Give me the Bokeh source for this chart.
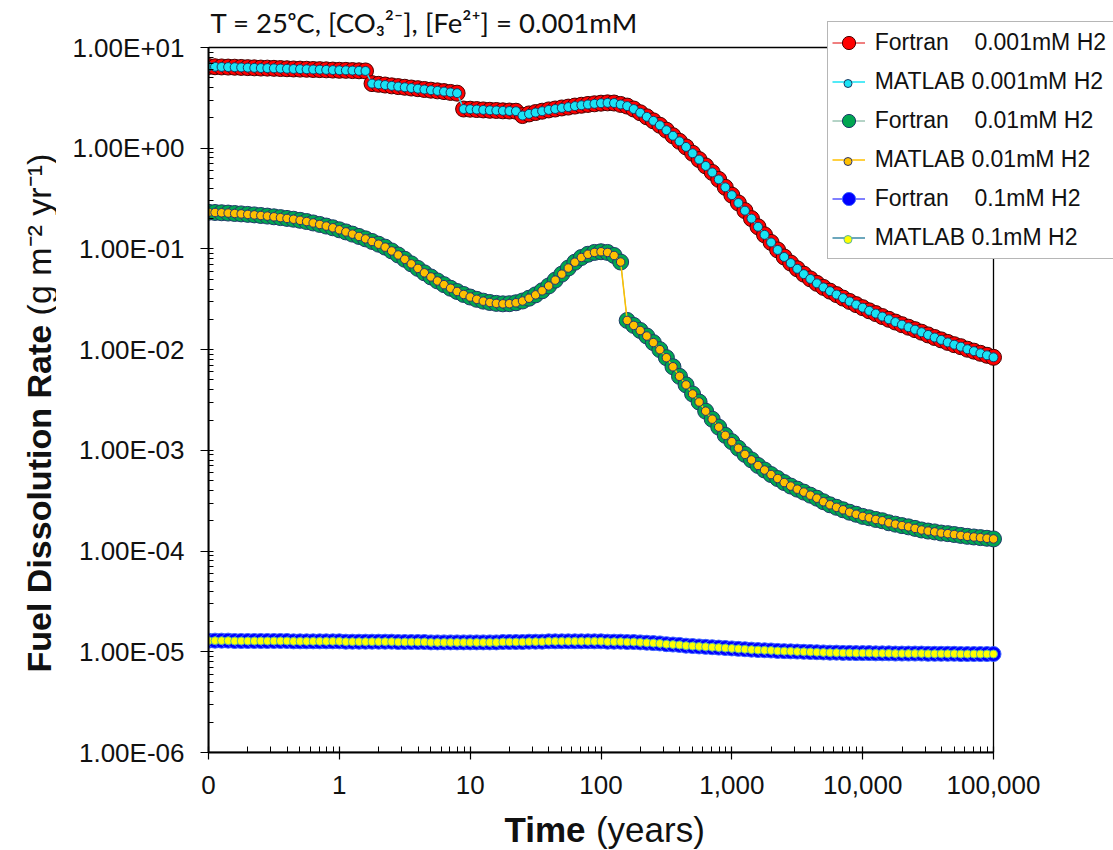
import math
from bokeh.plotting import figure
from bokeh.layouts import row, column
from bokeh.models import (FixedTicker, CustomJSTickFormatter, Legend, LegendItem,
                          Label, Range1d, BoxAnnotation)
from bokeh.embed import file_html
from bokeh.resources import INLINE

# ---------------- data ----------------
time_years = [
    0.1, 0.1122, 0.1259, 0.1413, 0.1585, 0.1778, 0.1995, 0.2239, 0.2512, 0.2818,
    0.3162, 0.3548, 0.3981, 0.4467, 0.5012, 0.5623, 0.6310, 0.7079, 0.7943, 0.8913,
    1.0, 1.122, 1.259, 1.413, 1.585, 1.778, 1.995, 2.239, 2.512, 2.818,
    3.162, 3.548, 3.981, 4.467, 5.012, 5.623, 6.310, 7.079, 7.943, 8.913,
    10.0, 11.22, 12.59, 14.13, 15.85, 17.78, 19.95, 22.39, 25.12, 28.18,
    31.62, 35.48, 39.81, 44.67, 50.12, 56.23, 63.10, 70.79, 79.43, 89.13,
    100.0, 112.2, 125.9, 141.3, 158.5, 177.8, 199.5, 223.9, 251.2, 281.8,
    316.2, 354.8, 398.1, 446.7, 501.2, 562.3, 631.0, 707.9, 794.3, 891.3,
    1000.0, 1122.0, 1259.0, 1413.0, 1585.0, 1778.0, 1995.0, 2239.0, 2512.0, 2818.0,
    3162.0, 3548.0, 3981.0, 4467.0, 5012.0, 5623.0, 6310.0, 7079.0, 7943.0, 8913.0,
    10000.0, 11220.0, 12590.0, 14130.0, 15850.0, 17780.0, 19950.0, 22390.0, 25120.0, 28180.0,
    31620.0, 35480.0, 39810.0, 44670.0, 50120.0, 56230.0, 63100.0, 70790.0, 79430.0, 89130.0,
    100000.0,
]

fortran_0001 = [
    6.47, 6.44, 6.41, 6.39, 6.37, 6.34, 6.31, 6.28, 6.25, 6.24, 6.21, 6.18, 6.15,
    6.12, 6.10, 6.08, 6.05, 6.03, 6.00, 5.97, 5.94, 5.93, 5.90, 5.87, 5.85,
    4.38, 4.31, 4.24, 4.16, 4.09, 4.03, 3.96, 3.90, 3.83, 3.77, 3.71, 3.65, 3.58, 3.52,
    2.45, 2.44, 2.42, 2.40, 2.38, 2.37, 2.35, 2.34, 2.33,
    2.11, 2.19, 2.26, 2.33, 2.40, 2.45, 2.51, 2.56, 2.62, 2.67, 2.72, 2.76, 2.80, 2.82,
    2.81, 2.72, 2.62, 2.45, 2.25, 2.05, 1.87, 1.69, 1.51, 1.33,
    1.17, 1.03, 0.891, 0.771, 0.667, 0.575, 0.490, 0.409, 0.342, 0.286,
    0.240, 0.200, 0.166, 0.138, 0.116, 0.0977, 0.0832, 0.0724, 0.0635, 0.0562,
    0.0504, 0.0455, 0.0415, 0.0381, 0.0352, 0.0325, 0.0301, 0.0280, 0.0261, 0.0243,
    0.0228, 0.0213, 0.0200, 0.0188, 0.0177, 0.0167, 0.0158, 0.0149, 0.0140, 0.0132,
    0.0125, 0.0118, 0.0112, 0.0107, 0.0101, 0.00966, 0.00920, 0.00879, 0.00839,
]

fortran_001 = [
    0.2312, 0.2301, 0.2286, 0.2270, 0.2249, 0.2228, 0.2203, 0.2178, 0.2148, 0.2118,
    0.2084, 0.2046, 0.2009,
    0.1972, 0.1923, 0.1871, 0.1811, 0.1750, 0.1687, 0.1622, 0.1549, 0.1476, 0.1403,
    0.1330, 0.1259, 0.1186, 0.1114, 0.1042,
    0.0955, 0.0871, 0.0789, 0.0711, 0.0641, 0.0579, 0.0527, 0.0481, 0.0442, 0.0407,
    0.0378, 0.0353, 0.0333, 0.0316, 0.0303, 0.0294, 0.0288, 0.0285, 0.0286, 0.0292,
    0.0304, 0.0324, 0.0350, 0.0384, 0.0429, 0.0490, 0.0562, 0.0646, 0.0738, 0.0822,
    0.0885, 0.0923, 0.0938, 0.0923, 0.0861, 0.0741,
    0.0195, 0.0174, 0.0155, 0.01365, 0.01175, 0.0100, 0.00832, 0.00676, 0.00543, 0.00447,
    0.00363, 0.00302, 0.00245, 0.00204, 0.00170, 0.00141, 0.00122, 0.00105, 0.000912, 0.000804,
    0.000708, 0.000638, 0.000575, 0.000525, 0.000479, 0.000442, 0.000412, 0.000385, 0.000359, 0.000335,
    0.000309, 0.000288, 0.000272, 0.000257, 0.000243, 0.000232, 0.000221, 0.000214, 0.000206, 0.000200,
    0.000191, 0.000185, 0.000179, 0.000174, 0.000168, 0.000162, 0.000158, 0.000155, 0.000151, 0.000149,
    0.000146, 0.000143, 0.000140, 0.000138, 0.000136, 0.000134, 0.000132,
]

fortran_01 = [
    1.29e-5, 1.29e-5, 1.29e-5, 1.29e-5, 1.28e-5, 1.28e-5, 1.28e-5, 1.28e-5, 1.28e-5, 1.28e-5, 1.28e-5,
    1.28e-5, 1.28e-5, 1.27e-5, 1.27e-5, 1.27e-5, 1.27e-5, 1.27e-5, 1.27e-5, 1.27e-5, 1.27e-5,
    1.26e-5, 1.26e-5, 1.26e-5, 1.26e-5, 1.26e-5, 1.26e-5,
    1.26e-5, 1.26e-5, 1.25e-5, 1.25e-5, 1.25e-5, 1.25e-5, 1.25e-5, 1.24e-5, 1.24e-5, 1.24e-5,
    1.24e-5, 1.24e-5, 1.24e-5, 1.24e-5, 1.24e-5, 1.24e-5, 1.24e-5, 1.24e-5, 1.25e-5, 1.25e-5, 1.25e-5,
    1.25e-5, 1.26e-5, 1.26e-5, 1.26e-5, 1.27e-5, 1.27e-5, 1.27e-5, 1.27e-5, 1.27e-5, 1.27e-5,
    1.27e-5, 1.27e-5, 1.27e-5, 1.26e-5, 1.26e-5, 1.26e-5, 1.25e-5, 1.25e-5, 1.24e-5,
    1.23e-5, 1.22e-5, 1.21e-5, 1.19e-5, 1.18e-5, 1.17e-5, 1.15e-5, 1.14e-5, 1.13e-5, 1.12e-5,
    1.11e-5, 1.10e-5, 1.09e-5, 1.08e-5, 1.07e-5, 1.06e-5,
    1.05e-5, 1.04e-5, 1.035e-5, 1.03e-5, 1.02e-5, 1.015e-5, 1.01e-5, 1.005e-5, 1.00e-5, 0.995e-5,
    0.99e-5, 0.985e-5, 0.98e-5, 0.98e-5, 0.975e-5, 0.975e-5, 0.97e-5, 0.97e-5, 0.97e-5, 0.965e-5,
    0.965e-5, 0.965e-5, 0.96e-5, 0.96e-5, 0.96e-5, 0.96e-5, 0.96e-5, 0.955e-5, 0.955e-5,
    0.955e-5, 0.955e-5, 0.955e-5, 0.95e-5, 0.95e-5, 0.95e-5, 0.95e-5, 0.95e-5, 0.95e-5,
]

# MATLAB results coincide with the Fortran results at the resolution of the picture
matlab_0001 = list(fortran_0001)
matlab_001 = list(fortran_001)
matlab_01 = list(fortran_01)

x_major_ticks = [0.1, 1, 10, 100, 1000, 10000, 100000]
y_major_ticks = [1e-6, 1e-5, 1e-4, 1e-3, 1e-2, 1e-1, 1, 10]
x_min, x_max = 0.1, 1e5
y_min, y_max = 1e-6, 10.0

NB = "\u00a0"
labels = [
    "Fortran" + NB * 4 + "0.001mM H2",
    "MATLAB 0.001mM H2",
    "Fortran" + NB * 4 + "0.01mM H2",
    "MATLAB 0.01mM H2",
    "Fortran" + NB * 4 + "0.1mM H2",
    "MATLAB 0.1mM H2",
]

# ---------------- geometry (page pixels) ----------------
FONT = "Liberation Sans"
PAGE_W, PAGE_H = 1113, 850
YLAB_W = 56                 # strip holding the y-axis title
FRAME_L, FRAME_R = 208, 993  # where x = 0.1 and x = 1e5 fall
FRAME_T, FRAME_B = 47, 752   # where y = 10 and y = 1e-6 fall
MAIN_H = 810

px_per_dec_x = (FRAME_R - FRAME_L) / 6.0
px_per_dec_y = (FRAME_B - FRAME_T) / 7.0
x_view_end = x_max * 10 ** ((PAGE_W - FRAME_R) / px_per_dec_x)
y_view_end = y_max * 10 ** (FRAME_T / px_per_dec_y)

p = figure(width=PAGE_W - YLAB_W, height=MAIN_H, x_axis_type="log", y_axis_type="log",
           x_range=Range1d(x_min, x_view_end), y_range=Range1d(y_min, y_view_end),
           output_backend="svg", toolbar_location=None, title=None,
           min_border_left=FRAME_L - YLAB_W, min_border_right=0,
           min_border_top=0, min_border_bottom=MAIN_H - FRAME_B)
p.grid.visible = False
p.outline_line_color = None
p.background_fill_color = "white"
p.border_fill_color = "white"

# plot-area box (x 0.1..1e5, y 1e-6..10)
p.add_layout(BoxAnnotation(left=x_min, right=x_max, bottom=y_min, top=y_max,
                           fill_alpha=0, line_color="black", line_alpha=1.0,
                           line_width=1.3, level="underlay"))

xa = p.xaxis[0]
xa.bounds = (x_min, x_max)
xa.ticker = FixedTicker(ticks=x_major_ticks,
                        minor_ticks=[m * 10.0 ** e for e in range(-1, 5) for m in range(2, 10)])
xa.formatter = CustomJSTickFormatter(code="""
if (tick < 0.5) { return "0"; }
return Math.round(tick).toLocaleString("en-US");
""")
ya = p.yaxis[0]
ya.bounds = (y_min, y_max)
ya.ticker = FixedTicker(ticks=y_major_ticks,
                        minor_ticks=[m * 10.0 ** e for e in range(-6, 1) for m in range(2, 10)])
ya.formatter = CustomJSTickFormatter(code="""
const e = Math.round(Math.log10(tick));
const a = Math.abs(e);
return "1.00E" + (e < 0 ? "-" : "+") + (a < 10 ? "0" : "") + a;
""")

for ax in (xa, ya):
    ax.axis_line_color = "black"
    ax.axis_line_width = 2
    ax.major_tick_line_color = "black"
    ax.minor_tick_line_color = "black"
    ax.major_tick_line_width = 1.2
    ax.minor_tick_line_width = 1
    ax.minor_tick_out = 0
    ax.major_label_text_font = FONT
    ax.major_label_text_font_size = "26px"
    ax.major_label_text_color = "#111111"

xa.major_tick_in = 6
xa.major_tick_out = 7
xa.minor_tick_in = 6
xa.major_label_standoff = 16
ya.major_tick_in = 5
ya.major_tick_out = 8
ya.minor_tick_in = 5
ya.major_label_standoff = 16

# ---------------- series ----------------
styles = [
    dict(y=fortran_0001, fill="#ff0000", edge="#4a0000", line="#e00000", size=16, lw=1),
    dict(y=matlab_0001, fill="#19e3f5", edge="#1f3560", line="#19e3f5", size=9, lw=1.5),
    dict(y=fortran_001, fill="#00a651", edge="#1f3a6a", line="#6aa88e", size=16, lw=1),
    dict(y=matlab_001, fill="#ffc000", edge="#2b3470", line="#ffc000", size=8.5, lw=1.5),
    dict(y=fortran_01, fill="#0000ff", edge="#3d63ff", line="#0000ff", size=15, lw=1),
    dict(y=matlab_01, fill="#ffff00", edge="#59b3a0", line="#3b8aa6", size=8, lw=1.5),
]

lines, dots = [], []
for st in styles:
    ln = p.line(time_years, st["y"], line_color=st["line"], line_width=st["lw"])
    sc = p.scatter(time_years, st["y"], size=st["size"], fill_color=st["fill"],
                   line_color=st["edge"], line_width=1)
    lines.append(ln)
    dots.append(sc)

# invisible helper used for empty legend slots
ghost = p.scatter([1.0], [1e-9], size=1, fill_alpha=0, line_alpha=0)

# legend geometry (page pixels)
LEG_L, LEG_T, LEG_R = 826.7, 23.3, 1112
PAD, GH_A, SP_A = 4, 33, 6
GH_B, SP_B = 20, 19
STANDOFF = 10
leg_h_a = 2 * PAD + 6 * GH_A + 5 * SP_A
leg_h_b = 2 * PAD + 6 * GH_B + 5 * SP_B
top_b = LEG_T + (GH_A - GH_B) / 2.0

items_a = []
for i, lbl in enumerate(labels):
    rs = [lines[i], dots[i]] if i % 2 == 0 else [lines[i]]
    items_a.append(LegendItem(label=lbl, renderers=rs))
leg_a = Legend(items=items_a,
               location=(LEG_L - FRAME_L, FRAME_B - (LEG_T + leg_h_a)),
               orientation="vertical",
               glyph_width=33, glyph_height=GH_A, spacing=SP_A, padding=PAD, margin=0,
               label_standoff=STANDOFF,
               label_width=int(LEG_R - LEG_L - 2 * PAD - 33 - STANDOFF),
               label_text_font=FONT, label_text_font_size="23px",
               label_text_color="#111111", label_text_baseline="middle",
               border_line_color="#6e6e6e", border_line_width=1.5,
               background_fill_color="white", background_fill_alpha=1.0)
p.add_layout(leg_a)

# overlay legend for the small (MATLAB) markers
items_b = []
for i in range(6):
    rs = [dots[i]] if i % 2 == 1 else [ghost]
    items_b.append(LegendItem(label=NB, renderers=rs))
leg_b = Legend(items=items_b,
               location=(LEG_L - FRAME_L, FRAME_B - (top_b + leg_h_b)),
               orientation="vertical",
               glyph_width=33, glyph_height=GH_B, spacing=SP_B, padding=PAD, margin=0,
               label_standoff=STANDOFF, label_text_font_size="1px", label_text_alpha=0,
               border_line_alpha=0, background_fill_alpha=0)
p.add_layout(leg_b)

# chart title (inside the canvas of the main figure)
p.add_layout(Label(x=210 - YLAB_W, y=21.5, x_units="canvas", y_units="canvas",
                   text="T = 25\u1d52C, [CO\u2083\u00b2\u207b], [Fe\u00b2\u207a] = 0.001mM",
                   text_font="Lato", text_font_size="27.5px", text_color="#111111",
                   text_align="left", text_baseline="middle"))

# ---------------- y-axis title strip ----------------
yfig = figure(width=YLAB_W, height=PAGE_H, x_range=Range1d(0, 1), y_range=Range1d(0, 1),
              x_axis_location=None, y_axis_location=None, output_backend="svg",
              toolbar_location=None, title=None, min_border=0)
yfig.grid.visible = False
yfig.outline_line_color = None
YL_SIZE = 34
y_start = 672
bold_w = 10.224 * YL_SIZE + 0.278 * YL_SIZE
yfig.add_layout(Label(x=38, y=y_start, x_units="canvas", y_units="canvas", angle=math.pi / 2,
                      text="Fuel Dissolution Rate", text_font=FONT, text_font_style="bold",
                      text_font_size=f"{YL_SIZE}px", text_color="#111111",
                      text_align="left", text_baseline="middle"))
yfig.add_layout(Label(x=38, y=y_start - bold_w, x_units="canvas", y_units="canvas",
                      angle=math.pi / 2,
                      text="(g m\u207b\u00b2 yr\u207b\u00b9)", text_font=FONT,
                      text_font_size=f"{YL_SIZE}px", text_color="#111111",
                      text_align="left", text_baseline="middle"))

# ---------------- x-axis title strip ----------------
XF_H = PAGE_H - MAIN_H
xfig = figure(width=PAGE_W - YLAB_W, height=XF_H, x_range=Range1d(0, 1), y_range=Range1d(0, 1),
              x_axis_location=None, y_axis_location=None, output_backend="svg",
              toolbar_location=None, title=None, min_border=0)
xfig.grid.visible = False
xfig.outline_line_color = None
XL_SIZE = 35
x_start = 504 - YLAB_W
xfig.add_layout(Label(x=x_start, y=829 - MAIN_H, x_units="canvas", y_units="canvas",
                      text="Time", text_font=FONT, text_font_style="bold",
                      text_font_size=f"{XL_SIZE}px", text_color="#111111",
                      text_align="left", text_baseline="middle"))
xfig.add_layout(Label(x=x_start + (2.334 + 0.278) * XL_SIZE, y=829 - MAIN_H,
                      x_units="canvas", y_units="canvas",
                      text="(years)", text_font=FONT, text_font_size=f"{XL_SIZE}px",
                      text_color="#111111", text_align="left", text_baseline="middle"))

layout = row(yfig, column(p, xfig, spacing=0), spacing=0)
open("out.html", "w").write(file_html(layout, INLINE))
